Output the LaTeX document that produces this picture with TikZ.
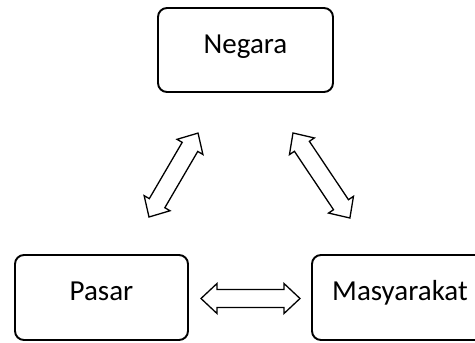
\documentclass[tikz,border=0pt]{standalone}
\usepackage{fontspec}
\setmainfont{Carlito}
\begin{document}
\begin{tikzpicture}[x=1pt,y=-1pt,
  box/.style={draw, line width=1.9pt, rounded corners=9pt, inner sep=0pt,
    font=\fontsize{29}{34}\selectfont, text height=0.644em, text depth=0pt},
  arrowline/.style={draw, line width=1.3pt, fill=white, line join=miter},
  pics/dblarrow/.style={code={
    \path[arrowline] (0,0) -- (16,-15) -- (16,-9) -- (#1-16,-9) -- (#1-16,-15)
      -- (#1,0) -- (#1-16,15) -- (#1-16,9) -- (16,9) -- (16,15) -- cycle;}}]
\useasboundingbox (0,0) rectangle (475,343);
\node[box, minimum width=175pt, minimum height=84pt] (negara) at (245.5,50) {Negara};
\node[box, minimum width=173pt, minimum height=85pt] (pasar) at (101.5,297.5) {Pasar};
\node[box, minimum width=176pt, minimum height=85pt] (masy) at (400,297.5) {Masyarakat};
\coordinate (a1) at (149,217);
\coordinate (a2) at (293,133);
\coordinate (a3) at (201,298.5);
\pic[rotate=59.7] at (a1) {dblarrow=97.2};
\pic[rotate=-56.2] at (a2) {dblarrow=102.3};
\pic at (a3) {dblarrow=99};
\end{tikzpicture}
\end{document}
